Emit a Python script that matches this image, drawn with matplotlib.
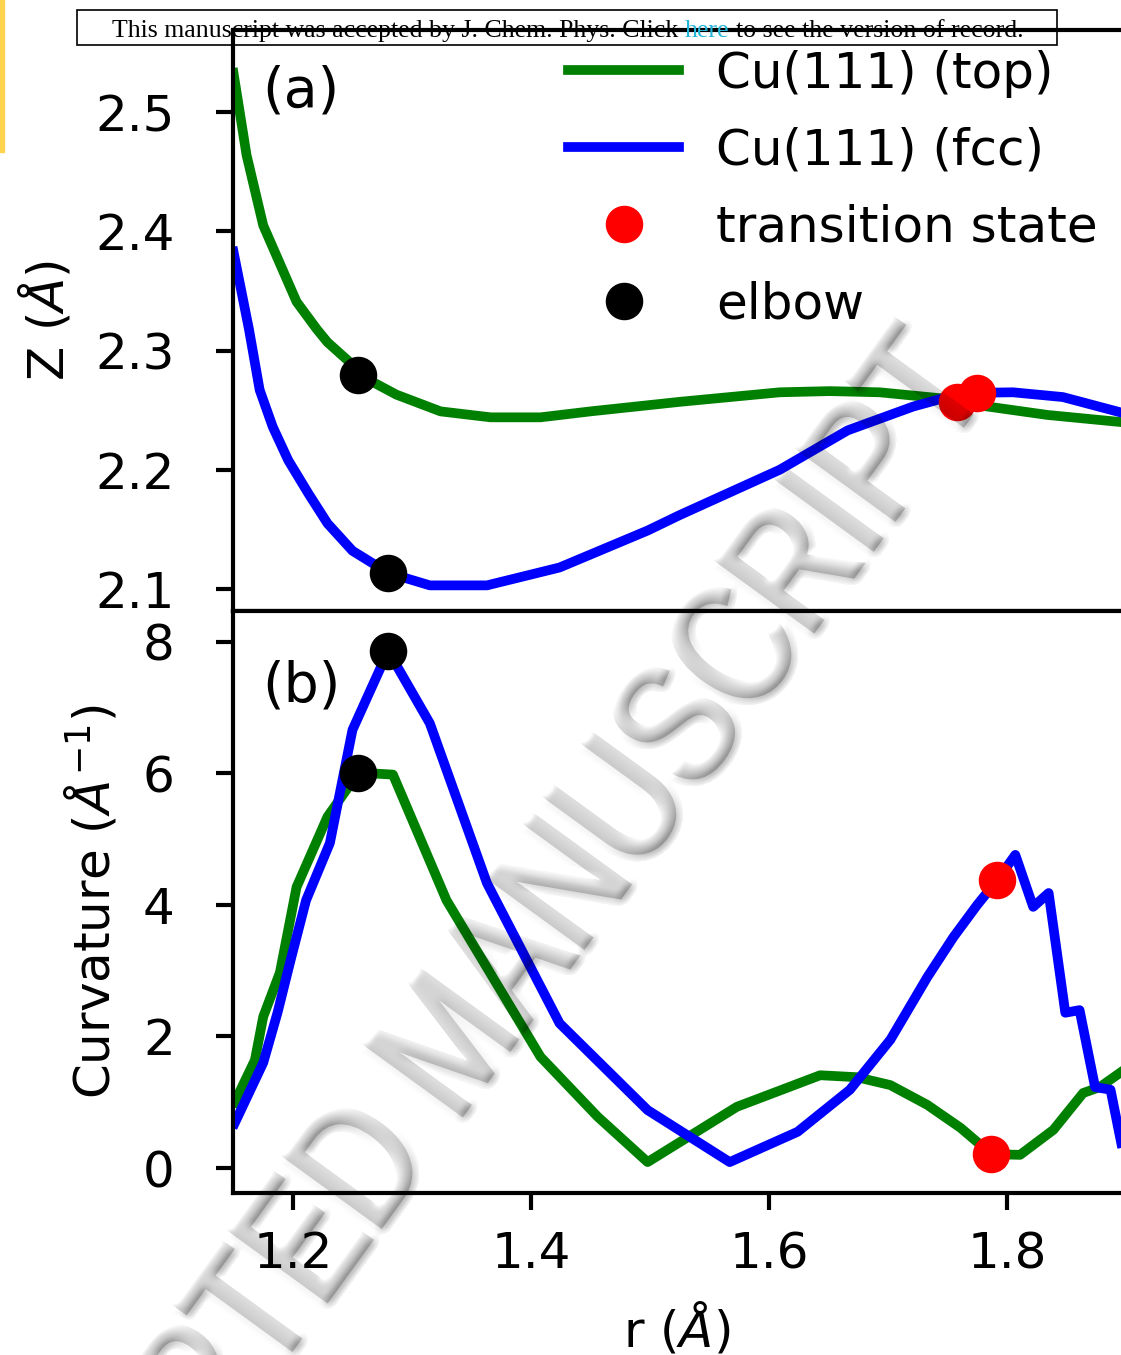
import numpy as np
import matplotlib.pyplot as plt
from matplotlib.figure import Figure
from matplotlib.backends.backend_agg import FigureCanvasAgg
from matplotlib.patches import Rectangle, PathPatch
from matplotlib.textpath import TextPath
from matplotlib.font_manager import FontProperties
from matplotlib.transforms import Affine2D

# height above the surface along the path, Cu(111) top and fcc sites
r_top = [1.150, 1.161, 1.175, 1.203, 1.220, 1.229, 1.248, 1.255, 1.287, 1.324,
         1.366, 1.408, 1.450, 1.525, 1.609, 1.651, 1.693, 1.744, 1.777, 1.834, 1.896]
z_top = [2.533, 2.464, 2.405, 2.341, 2.318, 2.307, 2.290, 2.280, 2.263, 2.249,
         2.244, 2.244, 2.249, 2.257, 2.265, 2.266, 2.265, 2.260, 2.254, 2.246, 2.240]
r_fcc = [1.150, 1.163, 1.172, 1.183, 1.196, 1.213, 1.229, 1.250, 1.280, 1.315, 1.363,
         1.424, 1.498, 1.525, 1.609, 1.666, 1.721, 1.750, 1.775, 1.805, 1.847, 1.896]
z_fcc = [2.383, 2.318, 2.267, 2.236, 2.208, 2.180, 2.155, 2.132, 2.1135, 2.103, 2.103,
         2.118, 2.149, 2.162, 2.200, 2.233, 2.253, 2.261, 2.2646, 2.265, 2.261, 2.248]

# curvature of the path
rc_top = [1.151, 1.168, 1.175, 1.189, 1.203, 1.212, 1.229, 1.245, 1.255, 1.284, 1.329,
          1.408, 1.456, 1.498, 1.573, 1.643, 1.674, 1.702, 1.733, 1.761, 1.787, 1.811,
          1.839, 1.864, 1.878, 1.896]
c_top = [1.00, 1.64, 2.30, 2.97, 4.27, 4.64, 5.34, 5.75, 6.01, 5.98, 4.07,
         1.69, 0.78, 0.09, 0.93, 1.41, 1.38, 1.26, 0.96, 0.61, 0.21, 0.20,
         0.58, 1.14, 1.23, 1.46]
rc_fcc = [1.151, 1.175, 1.187, 1.198, 1.211, 1.231, 1.250, 1.280, 1.315, 1.363, 1.424,
          1.498, 1.567, 1.624, 1.668, 1.702, 1.733, 1.755, 1.775, 1.792, 1.807, 1.822,
          1.835, 1.849, 1.861, 1.874, 1.887, 1.896]
c_fcc = [0.68, 1.60, 2.36, 3.16, 4.07, 4.94, 6.66, 7.86, 6.76, 4.33, 2.20,
         0.88, 0.09, 0.55, 1.19, 1.95, 2.90, 3.51, 4.00, 4.38, 4.76, 3.97,
         4.18, 2.36, 2.40, 1.23, 1.19, 0.38]

# transition states and elbows (top, fcc)
ts_r_z = [1.758, 1.775]
ts_z = [2.257, 2.2646]
elbow_r_z = [1.2546, 1.2799]
elbow_z = [2.2797, 2.1135]
ts_r_c = [1.7866, 1.7916]
ts_c = [0.21, 4.38]
elbow_r_c = [1.2546, 1.2799]
elbow_c = [6.01, 7.86]

W, H = 1121, 1355
fs = 36
lw = 7
ms = 26

fig = plt.figure(figsize=(W / 100, H / 100), dpi=100)
ax1 = fig.add_axes([233 / W, 1 - 611 / H, 1 - 233 / W, (611 - 30) / H])
ax2 = fig.add_axes([233 / W, 1 - 1193 / H, 1 - 233 / W, (1193 - 611) / H])

ax1.plot(r_top, z_top, color='green', lw=lw, label='Cu(111) (top)')
ax1.plot(r_fcc, z_fcc, color='blue', lw=lw, label='Cu(111) (fcc)')
ax1.plot(ts_r_z, ts_z, 'o', color='red', ms=ms, label='transition state')
ax1.plot(elbow_r_z, elbow_z, 'o', color='black', ms=ms, label='elbow')

ax2.plot(rc_top, c_top, color='green', lw=lw)
ax2.plot(rc_fcc, c_fcc, color='blue', lw=lw)
ax2.plot(ts_r_c, ts_c, 'o', color='red', ms=ms)
ax2.plot(elbow_r_c, elbow_c, 'o', color='black', ms=ms)

for ax in (ax1, ax2):
    ax.set_xlim(1.1496, 1.8958)
    ax.spines['right'].set_visible(False)
    for s in ('left', 'top', 'bottom'):
        ax.spines[s].set_linewidth(3)
    ax.tick_params(axis='y', direction='out', length=12, width=3,
                   labelsize=fs, pad=30)
    ax.set_xticks([1.2, 1.4, 1.6, 1.8])

ax1.set_ylim(2.0815, 2.569)
ax1.set_yticks([2.1, 2.2, 2.3, 2.4, 2.5])
ax1.tick_params(axis='x', bottom=False, labelbottom=False)
ax2.set_ylim(-0.38, 8.467)
ax2.set_yticks([0, 2, 4, 6, 8])
ax2.tick_params(axis='x', direction='out', length=12, width=3,
                labelsize=fs, pad=15)

ax1.set_ylabel(r'Z ($\AA$)', fontsize=fs, labelpad=16)
ax2.set_ylabel(r'Curvature ($\AA^{-1}$)', fontsize=fs, labelpad=17)
ax2.set_xlabel(r'r ($\AA$)', fontsize=fs, labelpad=16)

ax1.text(0.033, 0.94, '(a)', transform=ax1.transAxes, fontsize=40,
         ha='left', va='top')
ax2.text(0.033, 0.916, '(b)', transform=ax2.transAxes, fontsize=40,
         ha='left', va='top')

ax1.legend(loc='upper left', bbox_to_anchor=(0.349, 1.009), frameon=False,
           fontsize=fs, borderpad=0, handlelength=2.23, handletextpad=0.73,
           labelspacing=0.58, numpoints=1)

# banner across the top
fig.add_artist(Rectangle((77 / W, 1 - 45 / H), (1057 - 77) / W, 35 / H,
                         transform=fig.transFigure, fill=False, lw=1.2,
                         edgecolor='black', zorder=5))
fig.add_artist(Rectangle((0, 1 - 152 / H), 4 / W, 152 / H,
                         transform=fig.transFigure, color='#ffd34d', zorder=5))
renderer = fig.canvas.get_renderer()
hfs = 18.65
gap = 0.25 * hfs * 100 / 72
x = 112
for piece, col in [('This manuscript was accepted by J. Chem. Phys. Click', 'black'),
                   ('here', '#22b5d8'),
                   ('to see the version of record.', 'black')]:
    t = fig.text(x / W, 1 - 37 / H, piece, family='Liberation Serif',
                 fontsize=hfs, color=col, va='baseline', zorder=6)
    x = t.get_window_extent(renderer).x1 + gap


# embossed watermark: render the lettering as a mask, then shade its edges
def box_blur(a, k):
    for axis in (0, 1):
        a = np.moveaxis(a, axis, 0)
        p = np.pad(a, ((k + 1, k), (0, 0)), mode='edge')
        c = np.cumsum(p, axis=0)
        a = (c[2 * k + 1:] - c[:-2 * k - 1]) / (2 * k + 1)
        a = np.moveaxis(a, 0, axis)
    return a


wm = TextPath((0, 0), 'ACCEPTED MANUSCRIPT', size=1,
              prop=FontProperties(family='Liberation Sans'))
x_end = wm.get_extents().x1 - 0.285
wm_trans = (Affine2D().translate(-x_end, 0).scale(138, 175)
            .rotate_deg(54).translate(967, H - 420))
mfig = Figure(figsize=(W / 100, H / 100), dpi=100, facecolor='black')
mcanvas = FigureCanvasAgg(mfig)
mfig.add_artist(PathPatch(wm, transform=wm_trans, facecolor='white',
                          edgecolor='white', lw=3))
mcanvas.draw()
mask = np.asarray(mcanvas.buffer_rgba())[..., 0].astype(float) / 255

soft = box_blur(box_blur(mask, 4), 4)
gy, gx = np.gradient(soft)
shade = -(gx + gy) / np.sqrt(2) * 9
dark = np.clip(0.17 * mask + 0.27 * shade * (soft > 0.02), 0, 0.5)
overlay = np.zeros((H, W, 4))
overlay[..., 3] = dark
fig.figimage(overlay, 0, 0, origin='upper', zorder=20)

fig.savefig('out.png', dpi=100)
